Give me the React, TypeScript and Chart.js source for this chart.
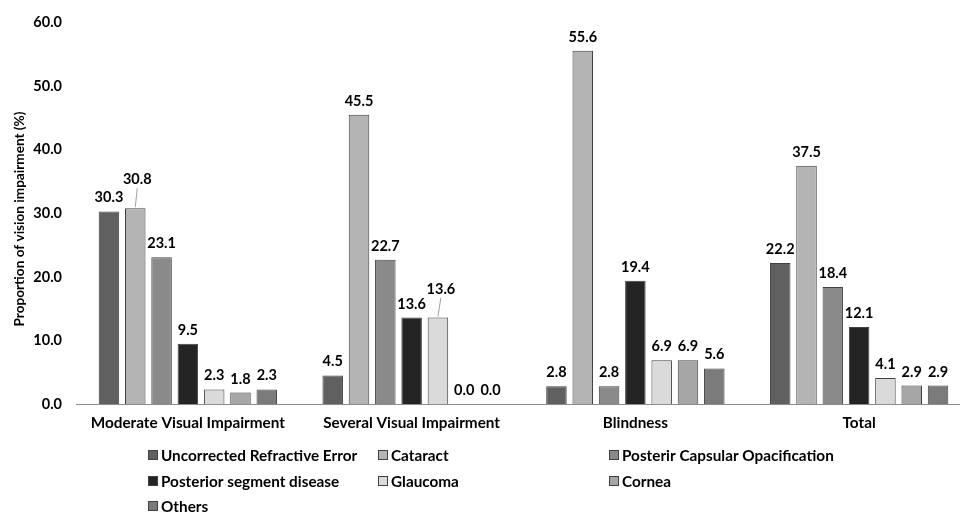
import React, { useEffect, useRef } from "react";
import { Chart, registerables } from "chart.js";

Chart.register(...registerables);

const categories = [
  "Moderate Visual Impairment",
  "Several Visual Impairment",
  "Blindness",
  "Total",
];

const seriesNames = [
  "Uncorrected Refractive Error",
  "Cataract",
  "Posterir Capsular Opacification",
  "Posterior segment disease",
  "Glaucoma",
  "Cornea",
  "Others",
];

const uncorrectedRefractiveError = [30.3, 4.5, 2.8, 22.2];
const cataract = [30.8, 45.5, 55.6, 37.5];
const posteriorCapsularOpacification = [23.1, 22.7, 2.8, 18.4];
const posteriorSegmentDisease = [9.5, 13.6, 19.4, 12.1];
const glaucoma = [2.3, 13.6, 6.9, 4.1];
const cornea = [1.8, 0.0, 6.9, 2.9];
const others = [2.3, 0.0, 5.6, 2.9];

const seriesValues = [
  uncorrectedRefractiveError,
  cataract,
  posteriorCapsularOpacification,
  posteriorSegmentDisease,
  glaucoma,
  cornea,
  others,
];

const yTicks = [0, 10, 20, 30, 40, 50, 60];
const yTitle = "Proportion of vision impairment (%)";

const colors = ["#606060", "#b4b4b4", "#8a8a8a", "#242424", "#dadada", "#a6a6a6", "#7b7b7b"];

// labels that were moved up with a leader line: [datasetIndex, categoryIndex, dx, dy]
const movedLabels: [number, number, number, number][] = [
  [1, 0, 2, -15],
  [4, 1, 3, -15],
];

const FONT = "Lato, 'Open Sans', sans-serif";

const valueLabels = {
  id: "valueLabels",
  afterDatasetsDraw(chart: any) {
    const ctx = chart.ctx;
    ctx.save();
    ctx.font = `bold 14.5px ${FONT}`;
    ctx.textAlign = "center";
    ctx.textBaseline = "alphabetic";
    chart.data.datasets.forEach((ds: any, di: number) => {
      const meta = chart.getDatasetMeta(di);
      meta.data.forEach((bar: any, i: number) => {
        const v = ds.data[i] as number;
        const mv = movedLabels.find((m) => m[0] === di && m[1] === i);
        let x = bar.x;
        let y = bar.y - 9;
        if (mv) {
          x += mv[2];
          y += mv[3];
          ctx.strokeStyle = "#a0a0a0";
          ctx.lineWidth = 1;
          ctx.beginPath();
          ctx.moveTo(x, y + 4);
          ctx.lineTo(bar.x, bar.y - 1);
          ctx.stroke();
        }
        ctx.fillStyle = "#000";
        ctx.fillText(v.toFixed(1), x, y);
      });
    });
    ctx.restore();
  },
};

const axisTitle = {
  id: "axisTitle",
  afterDraw(chart: any) {
    const ctx = chart.ctx;
    ctx.save();
    ctx.translate(20, 219);
    ctx.rotate(-Math.PI / 2);
    ctx.font = `bold 13.6px ${FONT}`;
    ctx.textAlign = "center";
    ctx.textBaseline = "middle";
    ctx.fillStyle = "#000";
    ctx.fillText(yTitle, 0, 0);
    ctx.restore();
  },
};

const gridLegend = {
  id: "gridLegend",
  afterDraw(chart: any) {
    const ctx = chart.ctx;
    const cols = [148, 378, 609];
    const rows = [455, 481, 506];
    ctx.save();
    ctx.font = `bold 15.3px ${FONT}`;
    ctx.textAlign = "left";
    ctx.textBaseline = "middle";
    chart.data.datasets.forEach((ds: any, i: number) => {
      const x = cols[i % 3];
      const y = rows[Math.floor(i / 3)];
      ctx.fillStyle = ds.backgroundColor;
      ctx.fillRect(x, y - 5, 10, 10);
      ctx.strokeStyle = "#404040";
      ctx.lineWidth = 1;
      ctx.strokeRect(x + 0.5, y - 4.5, 9, 9);
      ctx.fillStyle = "#000";
      ctx.fillText(ds.label, x + 13, y + 1);
    });
    ctx.restore();
  },
};

export default function App() {
  const ref = useRef<HTMLCanvasElement | null>(null);
  useEffect(() => {
    if (!ref.current) return;
    const chart = new Chart(ref.current, {
      type: "bar",
      data: {
        labels: categories,
        datasets: seriesNames.map((name, i) => ({
          label: name,
          data: seriesValues[i],
          backgroundColor: colors[i],
          borderColor: "#404040",
          borderWidth: 1,
          categoryPercentage: 0.823,
          barPercentage: 0.78,
        })),
      },
      options: {
        animation: false,
        responsive: true,
        maintainAspectRatio: false,
        layout: { padding: { left: 0, top: 20, right: 5, bottom: 80 } },
        plugins: {
          legend: { display: false },
          tooltip: { enabled: false },
        },
        scales: {
          x: {
            type: "category",
            offset: true,
            grid: { display: false, drawTicks: false },
            border: { display: true, color: "#8c8c8c", width: 1 },
            ticks: {
              color: "#000",
              font: { family: FONT, size: 15.3, weight: "bold" },
              padding: 10,
              maxRotation: 0,
              autoSkip: false,
            },
            afterFit: (s: any) => {
              s.height = 28;
            },
          },
          y: {
            min: 0,
            max: 60,
            afterBuildTicks: (s: any) => {
              s.ticks = yTicks.map((v) => ({ value: v }));
            },
            grid: { display: false, drawTicks: false },
            border: { display: false },
            ticks: {
              color: "#000",
              font: { family: FONT, size: 14.5, weight: "bold" },
              padding: 14,
              callback: (v: any) => Number(v).toFixed(1),
            },
            afterFit: (s: any) => {
              s.width = 76;
            },
          },
        },
      },
      plugins: [valueLabels, axisTitle, gridLegend],
    });
    return () => chart.destroy();
  }, []);
  return (
    <div
      style={{
        position: "fixed",
        left: 0,
        top: 0,
        width: 960,
        height: 512,
        overflow: "hidden",
        background: "#fff",
      }}
    >
      <div style={{ position: "relative", width: 976, height: 512 }}>
        <canvas ref={ref} />
      </div>
    </div>
  );
}
